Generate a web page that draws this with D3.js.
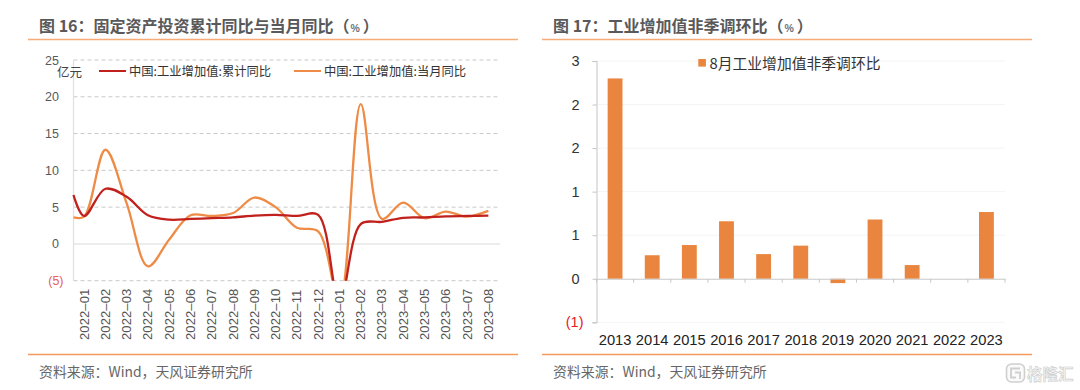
<!DOCTYPE html>
<html>
<head>
<meta charset="utf-8">
<script src="https://cdn.jsdelivr.net/npm/d3@7"></script>
<style>
html,body{margin:0;padding:0;background:#fff;}
svg{display:block;}
text{font-family:"Liberation Sans","Noto Sans CJK SC",sans-serif;}
.cjk{font-family:"Noto Sans CJK SC",sans-serif;}
</style>
</head>
<body>
<div id="chart"></div>
<script>
// left chart
let months = ["2022-01","2022-02","2022-03","2022-04","2022-05","2022-06","2022-07","2022-08","2022-09","2022-10",
              "2022-11","2022-12","2023-01","2023-02","2023-03","2023-04","2023-05","2023-06","2023-07","2023-08"];
let cumStart = 6.65;
let cumValues = [3.8,7.5,6.4,3.9,3.3,3.4,3.5,3.6,3.85,3.95,3.8,3.95,-8,2.7,3.0,3.55,3.6,3.75,3.8,3.85];
let monthStart = 3.6;
let monthValues = [3.7,12.8,5.5,-3.05,0.6,3.9,3.8,4.2,6.3,5.0,2.2,1.7,-8,19,3.4,5.6,3.5,4.4,3.7,4.5];
let leftTicks = [-5,0,5,10,15,20,25];
let leftNames = ["中国:工业增加值:累计同比","中国:工业增加值:当月同比"];

// right chart
let years = ["2013","2014","2015","2016","2017","2018","2019","2020","2021","2022","2023"];
let augValues = [2.3,0.27,0.387,0.66,0.283,0.38,-0.05,0.68,0.157,0,0.766];
let rightTicks = [-0.5,0,0.5,1,1.5,2,2.5];
let rightName = "8月工业增加值非季调环比";

let svg = d3.select("#chart").append("svg")
    .attr("width", 1080)
    .attr("height", 390);

function panelFrame(x0, x1, num, title, titleX){
    svg.append("line").attr("x1", x0).attr("x2", x1).attr("y1", 39.5).attr("y2", 39.5)
        .style("stroke", "#f6ab78").style("stroke-width", 1.5);
    svg.append("line").attr("x1", x0).attr("x2", x1).attr("y1", 354.5).attr("y2", 354.5)
        .style("stroke", "#f79a5e").style("stroke-width", 1.3);
    let t = svg.append("text").attr("class", "cjk").attr("x", titleX).attr("y", 31.5)
        .style("font-size", "16px").style("font-weight", "bold").style("fill", "#595959");
    t.append("tspan").text("图 " + num + "：" + title + "（");
    t.append("tspan").attr("dx", 1).text("%")
        .style("font-family", "Liberation Sans").style("font-size", "10.5px").style("fill", "#6b7580");
    t.append("tspan").attr("dx", 3).text("）");
    svg.append("text").attr("class", "cjk").attr("x", titleX).attr("y", 377)
        .style("font-size", "13.9px").style("fill", "#666")
        .text("资料来源：Wind，天风证券研究所");
}

panelFrame(28, 518, "16", "固定资产投资累计同比与当月同比", 39);
panelFrame(542, 1032, "17", "工业增加值非季调环比", 553);

// ---- left line chart
function drawLeft(){
    let xScale = d3.scaleBand().domain(months).range([73.5, 499]);
    let yScale = d3.scaleLinear().domain([-5, 25]).range([280.7, 60]);
    let g = svg.append("g");

    leftTicks.forEach(v => {
        if(v == 0) return;
        g.append("line")
            .attr("x1", 73.5).attr("x2", 499)
            .attr("y1", yScale(v)).attr("y2", yScale(v))
            .style("stroke", "#c9c9c9").style("stroke-dasharray", "4,3");
    });
    g.append("line").attr("x1", 73.5).attr("x2", 500)
        .attr("y1", yScale(0)).attr("y2", yScale(0))
        .style("stroke", "#e6e6e6").style("stroke-width", 1.5);
    g.append("line").attr("x1", 73.5).attr("x2", 73.5)
        .attr("y1", yScale(25)).attr("y2", yScale(-5))
        .style("stroke", "#e0e0e0").style("stroke-width", 1.2);

    let axisY = d3.axisLeft(yScale).tickValues(leftTicks).tickSize(0).tickPadding(14.5)
        .tickFormat(d => d < 0 ? "(" + Math.abs(d) + ")" : d);
    let yg = g.append("g").attr("transform", "translate(73.5,0)").call(axisY);
    yg.select(".domain").remove();
    yg.selectAll("text").style("font-size", "12.5px")
        .style("fill", d => d < 0 ? "#e8605a" : "#595959");
    yg.selectAll("text").filter(d => d < 0).attr("x", -10);

    let axisX = d3.axisBottom(xScale).tickSize(0).tickFormat(d => d.replace("-", "–"));
    let xg = g.append("g").attr("transform", "translate(0,288)").call(axisX);
    xg.select(".domain").remove();
    xg.selectAll("text")
        .attr("transform", "rotate(-90)")
        .attr("x", 0).attr("y", 0).attr("dx", "-52").attr("dy", "4.5")
        .style("text-anchor", "start")
        .style("font-size", "13px").style("letter-spacing", "0.1px").style("fill", "#555");

    svg.append("clipPath").attr("id", "plotClip").append("rect")
        .attr("x", 70).attr("y", yScale(25)).attr("width", 440).attr("height", yScale(-5) - yScale(25));

    let line = d3.line().curve(d3.curveCatmullRom.alpha(0.5))
        .x(d => d.x).y(d => yScale(d.v));
    function points(start, values){
        let pts = [{x: xScale.range()[0], v: start}];
        values.forEach((v, i) => {
            pts.push({x: xScale(months[i]) + xScale.bandwidth() / 2, v: v});
        });
        return pts;
    }
    g.append("path").datum(points(monthStart, monthValues)).attr("d", line)
        .attr("clip-path", "url(#plotClip)")
        .style("fill", "none").style("stroke", "#ee8c47").style("stroke-width", 2.3);
    g.append("path").datum(points(cumStart, cumValues)).attr("d", line)
        .attr("clip-path", "url(#plotClip)")
        .style("fill", "none").style("stroke", "#c1211c").style("stroke-width", 2.3);

    g.append("text").attr("class", "cjk").attr("x", 57).attr("y", 76.5)
        .style("font-size", "12.5px").style("fill", "#444").text("亿元");

    let legendX = [99, 294], legendColor = ["#c1211c", "#ee8c47"];
    leftNames.forEach((name, i) => {
        g.append("line").attr("x1", legendX[i]).attr("x2", legendX[i] + 27)
            .attr("y1", 71).attr("y2", 71)
            .style("stroke", legendColor[i]).style("stroke-width", 2);
        g.append("text").attr("class", "cjk").attr("x", legendX[i] + 30).attr("y", 75.5)
            .style("font-size", "12.3px").style("fill", "#333").text(name);
    });
}

// ---- right bar chart
function drawRight(){
    let x0 = 596.5, x1 = 1005;
    let xScale = d3.scaleBand().domain(years).range([x0, x1]).paddingInner(0.6).paddingOuter(0.3);
    let yScale = d3.scaleLinear().domain([-0.5, 2.5]).range([322.3, 61]);
    let g = svg.append("g");

    rightTicks.forEach(v => {
        if(v == 0) return;
        g.append("line")
            .attr("x1", x0).attr("x2", x1)
            .attr("y1", yScale(v)).attr("y2", yScale(v))
            .style("stroke", "#e8e8e8").style("stroke-dasharray", "1,1");
    });

    let axisY = d3.axisLeft(yScale).tickValues(rightTicks).tickSize(4).tickPadding(13)
        .tickFormat(d => d < 0 ? "(" + Math.round(Math.abs(d) + 0.001) + ")" : Math.round(d + 0.001));
    let yg = g.append("g").attr("transform", "translate(" + x0 + ",0)").call(axisY);
    yg.selectAll(".domain,line").style("stroke", "#c4c4c4");
    yg.selectAll("text").style("font-size", "14.5px")
        .style("fill", d => d < 0 ? "#e8201c" : "#333");
    yg.selectAll("text").filter(d => d < 0).attr("x", -13);

    g.selectAll("rect.bar")
        .data(augValues)
        .enter()
        .append("rect")
        .attr("class", "bar")
        .attr("x", (d, i) => xScale(years[i]))
        .attr("y", d => Math.min(yScale(d), yScale(0)))
        .attr("width", xScale.bandwidth())
        .attr("height", d => Math.abs(yScale(d) - yScale(0)))
        .style("fill", "#e9853e");

    // x axis sits on zero, labels stay at the bottom
    let stepW = (x1 - x0) / years.length;
    let axisX = d3.axisBottom(xScale).tickSize(0).tickPadding(0);
    let xg = g.append("g").attr("transform", "translate(0," + yScale(0) + ")").call(axisX);
    xg.select(".domain").style("stroke", "#c8c8c8").style("stroke-width", 1.2);
    xg.selectAll("text").attr("y", 66.3).attr("dy", 0)
        .style("font-size", "14.7px").style("fill", "#222");
    d3.range(years.length + 1).forEach(i => {
        g.append("line").attr("x1", x0 + i * stepW).attr("x2", x0 + i * stepW)
            .attr("y1", yScale(0)).attr("y2", yScale(0) + 4)
            .style("stroke", "#c8c8c8");
    });

    g.append("rect").attr("x", 698.3).attr("y", 59).attr("width", 7.6).attr("height", 7.6)
        .style("fill", "#e9853e");
    g.append("text").attr("class", "cjk").attr("x", 709.5).attr("y", 68.5)
        .style("font-size", "14.8px").style("fill", "#333").text(rightName);
}

drawLeft();
drawRight();

// watermark
let mark = svg.append("g");
mark.append("rect").attr("x", 1006.5).attr("y", 364).attr("width", 18).attr("height", 18).attr("rx", 5)
    .style("fill", "#fafafa").style("stroke", "#cfcfcf").style("stroke-width", 1.6);
mark.append("path").attr("d", "M1020,368.5H1011V377.5H1016M1015,372.5H1020V379")
    .style("fill", "none").style("stroke", "#cfcfcf").style("stroke-width", 1.8);
mark.append("text").attr("class", "cjk").attr("x", 1027).attr("y", 380)
    .style("font-size", "15.5px").style("font-weight", "bold")
    .style("fill", "#f6f6f6").style("stroke", "#cccccc").style("stroke-width", 0.6).text("格隆汇");
</script>
</body>
</html>
